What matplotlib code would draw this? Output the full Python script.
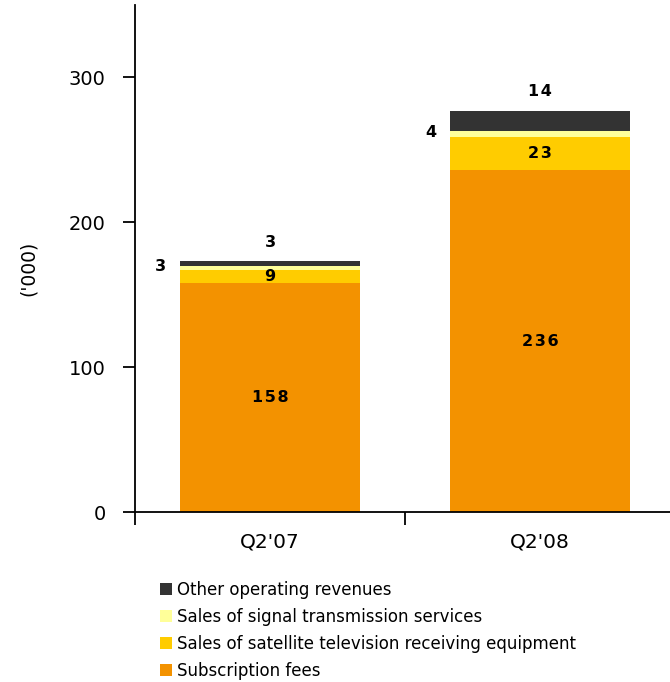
import matplotlib
matplotlib.use("Agg")
import matplotlib.pyplot as plt
from matplotlib.patches import Patch

# revenue breakdown, '000
quarters = ["Q2'07", "Q2'08"]
subscription = [158, 236]
equipment = [9, 23]
signal = [3, 4]
other = [3, 14]

series = [
    ("Subscription fees", subscription, "#F39200"),
    ("Sales of satellite television receiving equipment", equipment, "#FFCC00"),
    ("Sales of signal transmission services", signal, "#FFFF99"),
    ("Other operating revenues", other, "#333333"),
]

plt.rcParams['font.family'] = ['DejaVu Sans']


def spaced(v):
    # wide-set digits for the value labels
    return "\u200a".join(str(v))


fig = plt.figure(figsize=(6.7, 6.82), dpi=100)
ax = fig.add_axes([135 / 670, 170 / 682, 540 / 670, 507 / 682])

x = list(range(len(quarters)))
width = 0.67
bottom = [0] * len(quarters)
for name, vals, color in series:
    ax.bar(x, vals, width, bottom=bottom, color=color, label=name, linewidth=0)
    bottom = [b + v for b, v in zip(bottom, vals)]

# value labels
lbl = dict(fontsize=11.5, fontweight='bold', va='center')
for i in x:
    s, e, g, o = subscription[i], equipment[i], signal[i], other[i]
    ax.text(i, s / 2, spaced(s), ha='center', **lbl)
    ax.text(i, s + e / 2, spaced(e), ha='center', **lbl)
    ax.text(i - width / 2 - 0.05, s + e + g / 2 + 1, spaced(g), ha='right', **lbl)
    top = s + e + g + o
    ax.text(i, top + 13, spaced(o), ha='center', **lbl)

ax.set_ylim(0, 350)
ax.set_xlim(-0.5, 1.5)
ax.set_yticks([0, 100, 200, 300])
ax.tick_params(axis='y', labelsize=14, length=9, width=1.3, direction='out', pad=12)

# x ticks at category boundaries, labels centered under bars
ax.set_xticks([-0.5, 0.5, 1.5])
ax.set_xticklabels([])
ax.set_xticks(x, minor=True)
ax.set_xticklabels(quarters, minor=True, fontsize=14.5)
ax.tick_params(axis='x', which='major', length=9, width=1.3, direction='out')
ax.tick_params(axis='x', which='minor', length=0, pad=15)

for side in ('top', 'right'):
    ax.spines[side].set_visible(False)
for side in ('left', 'bottom'):
    ax.spines[side].set_linewidth(1.3)

fig.text(28 / 670, 1 - 268 / 682, "('000)", rotation=90, ha='center', va='center', fontsize=13.5)

handles = [Patch(facecolor=c, label=n) for n, _, c in series][::-1]
fig.legend(handles=handles, loc='upper left', bbox_to_anchor=(153 / 670, 1 - 574 / 682),
           frameon=False, fontsize=12, handlelength=0.75, handleheight=0.75,
           handletextpad=0.3, labelspacing=0.55, borderaxespad=0)

fig.savefig("out.png", dpi=100)
